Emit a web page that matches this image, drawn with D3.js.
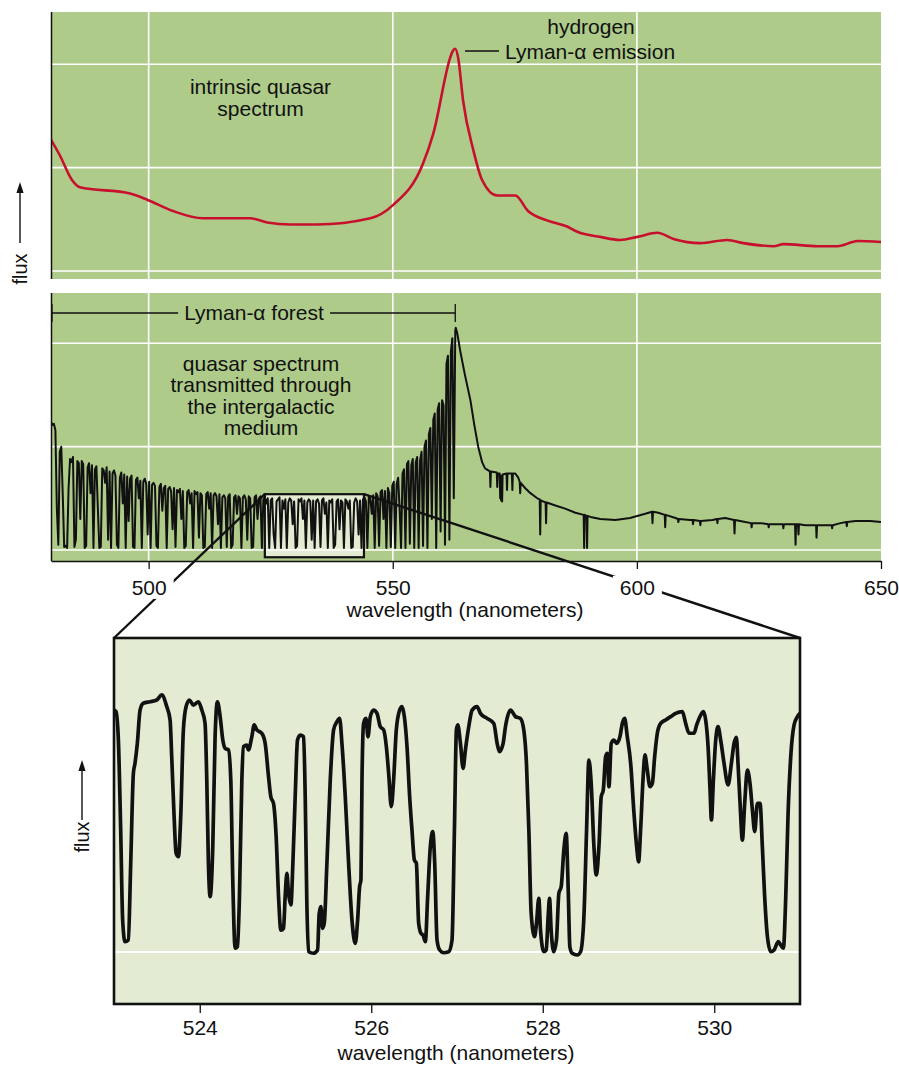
<!DOCTYPE html>
<html><head><meta charset="utf-8">
<script src="https://cdn.jsdelivr.net/npm/d3@7"></script>
<style>
body{margin:0;background:#fff}
svg{display:block}
text{font-family:"Liberation Sans",Arial,Helvetica,sans-serif;fill:#111}
</style>
</head><body>
<svg id="c" width="899" height="1066"></svg>
<script>
// ---------------- DATA ----------------
// Axis ticks / gridlines
const mainTicks = [500, 550, 600, 650];
const gridWaves = [500, 550, 600];
const gridFlux = [0, 1, 2];
const zoomTicks = [524, 526, 528, 530];

// Intrinsic quasar spectrum (red)
const topWave = [480.0,481.8,484.3,485.9,496.2,499.7,505.0,511.1,520.8,524.3,
  529.0,534.5,545.4,550.1,556.2,558.3,561.8,562.2,562.8,563.4,
  564.4,566.5,568.3,571.4,575.1,577.7,581.6,585.7,587.8,592.5,
  596.6,600.1,604.2,607.5,613.0,618.5,621.8,628.0,630.0,637.0,
  641.1,645.2,650.0];
const topFlux = [1.27,1.12,0.88,0.81,0.75,0.69,0.58,0.51,0.51,0.47,
  0.45,0.45,0.51,0.64,1.04,1.33,2.07,2.12,2.15,2.06,
  1.65,1.17,0.88,0.73,0.73,0.58,0.49,0.43,0.38,0.33,
  0.30,0.33,0.37,0.31,0.27,0.30,0.27,0.24,0.26,0.24,
  0.24,0.29,0.28];

// Transmitted spectrum: Lyman-alpha forest, sampled every 0.3 nm from 480 nm
const forestStart = 480.0;
const forestStep = 0.3;
const forestFlux = [
  1.24,1.21,1.22,1.16,0.40,0.05,0.95,1.00,0.55,0.03,
  0.04,0.02,0.60,0.88,0.85,0.90,0.03,0.10,0.86,0.84,
  0.30,0.86,0.83,0.02,0.04,0.80,0.84,0.55,0.82,0.02,
  0.78,0.81,0.40,0.02,0.03,0.79,0.77,0.65,0.80,0.10,
  0.76,0.02,0.74,0.77,0.72,0.05,0.02,0.70,0.75,0.45,
  0.73,0.02,0.71,0.28,0.69,0.72,0.03,0.02,0.68,0.70,
  0.50,0.67,0.02,0.66,0.69,0.64,0.15,0.66,0.02,0.63,
  0.65,0.62,0.04,0.02,0.61,0.64,0.38,0.60,0.62,0.02,
  0.59,0.61,0.57,0.20,0.60,0.03,0.58,0.56,0.59,0.30,
  0.57,0.02,0.04,0.56,0.58,0.45,0.55,0.02,0.57,0.54,
  0.56,0.12,0.55,0.53,0.02,0.03,0.54,0.56,0.40,0.55,
  0.02,0.53,0.55,0.52,0.25,0.54,0.02,0.51,0.53,0.50,
  0.03,0.52,0.54,0.02,0.05,0.51,0.53,0.35,0.52,0.50,
  0.02,0.51,0.53,0.49,0.10,0.52,0.50,0.02,0.03,0.51,
  0.53,0.30,0.50,0.52,0.02,0.49,0.51,0.45,0.50,0.02,
  0.48,0.50,0.15,0.02,0.47,0.49,0.51,0.02,0.48,0.40,
  0.49,0.02,0.46,0.50,0.48,0.25,0.47,0.02,0.04,0.49,
  0.47,0.50,0.30,0.48,0.02,0.46,0.49,0.47,0.10,0.48,
  0.02,0.47,0.49,0.45,0.03,0.48,0.50,0.35,0.46,0.02,
  0.48,0.46,0.49,0.02,0.05,0.47,0.49,0.20,0.48,0.46,
  0.02,0.49,0.47,0.40,0.48,0.02,0.03,0.46,0.50,0.47,
  0.15,0.48,0.02,0.49,0.51,0.47,0.02,0.52,0.50,0.35,
  0.53,0.02,0.55,0.52,0.04,0.56,0.58,0.30,0.57,0.02,
  0.60,0.55,0.03,0.62,0.66,0.02,0.64,0.70,0.40,0.02,
  0.74,0.78,0.02,0.83,0.86,0.06,0.82,0.88,0.02,0.85,
  0.90,0.02,0.87,0.95,0.04,1.00,1.06,0.02,1.12,1.18,
  0.30,1.26,1.32,0.02,1.36,1.42,0.18,1.45,1.40,0.05,
  1.80,1.88,0.10,1.92,2.05,0.50,2.12];

// Transmitted spectrum redward of the Lyman-alpha emission
const redWave = [562.9,563.2,563.8,564.8,565.9,566.7,567.5,568.3,568.9,
  569.9,570.0,570.1,571.3,571.4,571.5,571.9,572.0,572.1,572.2,572.3,572.4,572.5,
  573.3,573.4,573.5,574.4,574.5,574.6,575.1,575.7,576.0,576.1,576.2,577.1,578.2,579.6,
  580.1,580.2,580.3,581.3,581.4,581.5,583.3,585.3,587.4,
  589.1,589.2,589.3,589.7,589.8,589.9,590.5,592.5,595.6,598.6,601.7,
  603.1,603.2,603.3,604.4,605.7,605.8,605.9,607.9,608.4,608.5,608.6,610.9,
  611.4,611.5,611.6,612.9,613.0,613.1,615.5,616.4,616.5,616.6,618.1,
  619.9,620.0,620.1,622.2,623.4,623.5,623.6,625.3,626.9,627.0,627.1,628.4,
  629.9,630.0,630.1,631.4,632.4,632.5,632.6,633.0,633.1,633.2,634.5,
  636.7,636.8,636.9,638.6,639.9,640.0,640.1,641.7,642.9,643.0,643.1,644.8,647.8,650.0];
const redFlux = [2.15,2.10,1.93,1.69,1.45,1.21,1.00,0.85,0.79,
  0.76,0.61,0.76,0.75,0.61,0.74,0.74,0.50,0.70,0.48,0.72,0.47,0.73,
  0.74,0.58,0.74,0.74,0.58,0.74,0.74,0.70,0.66,0.55,0.65,0.60,0.55,0.50,
  0.49,0.15,0.48,0.46,0.26,0.46,0.43,0.40,0.36,
  0.34,0.02,0.34,0.33,0.02,0.33,0.32,0.30,0.29,0.31,0.35,
  0.37,0.26,0.37,0.36,0.34,0.22,0.34,0.31,0.30,0.27,0.30,0.29,
  0.29,0.25,0.29,0.28,0.24,0.28,0.29,0.30,0.26,0.30,0.31,
  0.29,0.16,0.29,0.27,0.26,0.22,0.26,0.26,0.25,0.22,0.25,0.25,
  0.25,0.21,0.25,0.25,0.25,0.05,0.25,0.25,0.15,0.25,0.24,
  0.24,0.12,0.24,0.24,0.24,0.21,0.24,0.26,0.27,0.23,0.27,0.28,0.28,0.27];

// Highlighted window and enlarged spectrum (523-531 nm)
const zoomBoxWave = [523.8, 544.1];
const zoomBoxFlux = [-0.07, 0.54];
const forestRange = [480.0, 562.8];

const zoomWave = [523.000,523.023,523.051,523.078,523.101,523.128,523.167,523.195,523.226,523.245,
  523.272,523.304,523.342,523.420,523.498,523.557,523.615,523.654,523.673,523.701,
  523.724,523.751,523.778,523.809,523.841,523.880,523.926,523.985,524.024,524.062,
  524.082,524.101,524.121,524.152,524.179,524.206,524.238,524.269,524.296,524.335,
  524.362,524.385,524.413,524.440,524.463,524.491,524.510,524.549,524.568,524.607,
  524.635,524.666,524.724,524.763,524.802,524.829,524.860,524.891,524.919,524.946,
  524.977,524.996,525.016,525.035,525.063,525.086,525.113,525.140,525.172,525.211,
  525.230,525.249,525.269,525.327,525.374,525.393,525.413,525.432,525.452,525.483,
  525.522,525.561,525.600,525.631,525.658,525.697,525.736,525.775,525.814,525.841,
  525.864,525.880,525.892,525.911,525.938,525.962,525.989,526.028,526.067,526.106,
  526.145,526.176,526.203,526.234,526.261,526.292,526.331,526.359,526.386,526.417,
  526.448,526.475,526.503,526.526,526.553,526.580,526.604,526.631,526.658,526.689,
  526.717,526.740,526.767,526.798,526.845,526.903,526.942,526.970,526.993,527.009,
  527.040,527.071,527.098,527.137,527.176,527.234,
  527.273,527.351,527.429,527.468,527.495,527.538,527.565,527.624,527.682,527.740,
  527.779,527.810,527.838,527.865,527.904,527.927,527.954,527.974,528.013,528.040,
  528.063,528.079,528.098,528.129,528.160,528.188,528.215,528.246,528.273,528.297,
  528.316,528.343,528.402,528.441,528.480,528.511,528.538,528.565,528.597,528.624,
  528.655,528.682,528.706,528.733,528.752,528.772,528.799,528.830,528.861,528.900,
  528.928,528.955,528.986,529.025,529.064,529.095,529.118,529.141,529.169,529.192,
  529.219,529.250,529.278,529.305,529.336,529.375,529.433,529.492,529.550,529.628,
  529.667,529.706,529.764,529.795,529.842,529.873,529.900,529.928,529.951,529.967,
  529.990,530.017,530.044,530.075,530.114,530.161,530.200,530.231,530.258,530.277,
  530.301,530.328,530.355,530.386,530.417,530.445,530.472,530.503,530.534,530.561,
  530.588,530.620,530.659,530.698,530.748,530.775,530.806,530.834,530.861,530.892,
  530.931,530.970,531.001];
const zoomFlux = [0.960,0.954,0.841,0.484,0.127,0.041,0.048,0.352,0.709,0.749,
  0.828,0.960,0.987,0.993,1.000,1.020,0.974,0.921,0.775,0.537,
  0.392,0.378,0.537,0.881,0.974,1.000,0.980,0.993,0.960,0.907,
  0.683,0.352,0.220,0.418,0.854,0.993,0.934,0.841,0.808,0.802,
  0.683,0.286,0.015,0.021,0.220,0.683,0.815,0.821,0.802,0.854,
  0.901,0.881,0.868,0.828,0.696,0.616,0.590,0.458,0.220,0.087,
  0.094,0.220,0.312,0.233,0.187,0.352,0.616,0.841,0.861,0.854,
  0.616,0.193,0.001,-0.005,0.008,0.153,0.180,0.094,0.114,0.352,
  0.683,0.881,0.914,0.927,0.828,0.616,0.352,0.127,0.034,0.127,
  0.259,0.286,0.683,0.907,0.927,0.854,0.934,0.960,0.947,0.894,
  0.881,0.815,0.709,0.577,0.683,0.881,0.960,0.974,0.934,0.815,
  0.616,0.484,0.365,0.352,0.114,0.074,0.067,0.041,0.220,0.418,
  0.478,0.352,0.048,0.008,-0.003,0.001,0.048,0.484,0.881,0.901,
  0.828,0.729,0.802,0.894,0.960,0.974,
  0.947,0.927,0.907,0.828,0.795,0.828,0.894,0.960,0.934,0.927,
  0.881,0.749,0.484,0.153,0.061,0.114,0.213,0.087,0.001,0.008,
  0.140,0.213,0.087,0.001,0.048,0.233,0.259,0.405,0.471,0.246,
  0.021,-0.005,-0.012,0.001,0.140,0.484,0.762,0.669,0.418,0.306,
  0.418,0.616,0.643,0.775,0.788,0.656,0.828,0.841,0.828,0.854,
  0.907,0.927,0.854,0.749,0.550,0.418,0.358,0.484,0.683,0.782,
  0.722,0.656,0.669,0.775,0.868,0.907,0.921,0.934,0.947,0.954,
  0.907,0.868,0.868,0.901,0.940,0.954,0.921,0.815,0.643,0.524,
  0.683,0.841,0.894,0.841,0.749,0.663,0.749,0.828,0.852,0.749,
  0.590,0.444,0.590,0.722,0.669,0.563,0.478,0.590,0.590,0.418,
  0.220,0.061,0.001,0.008,0.041,0.028,0.015,0.220,0.550,0.775,
  0.901,0.934,0.947];

// ---------------- LAYOUT ----------------
const GREEN = "#aecb8a", PALE = "#e3ebd3", RED = "#c8102e", INK = "#111";
const FS = 21;
const P1 = {l:51, r:881, t:12, b:279};
const P2 = {l:51, r:881, t:293, b:561};
const P3 = {l:114, r:800, t:638, b:1004};

const svg = d3.select("#c");
const xMain = d3.scaleLinear().domain([480, 650]).range([P1.l, P1.r]);
const yTop = d3.scaleLinear().domain([0, 2]).range([271, 64.3]);
const yMid = d3.scaleLinear().domain([0, 2]).range([550, 343.3]);
const xZoom = d3.scaleLinear().domain([523, 531]).range([P3.l, P3.r]);
const yZoom = d3.scaleLinear().domain([0, 1]).range([952, 700]);

const defs = svg.append("defs");
function clip(id, P){
  defs.append("clipPath").attr("id", id).append("rect")
    .attr("x", P.l).attr("y", P.t).attr("width", P.r - P.l).attr("height", P.b - P.t);
}
clip("c1", P1); clip("c2", P2); clip("c3", P3);

function panelBg(P, yScale, fill){
  const g = svg.append("g");
  g.append("rect").attr("x", P.l).attr("y", P.t).attr("width", P.r - P.l)
    .attr("height", P.b - P.t).attr("fill", fill);
  g.selectAll(null).data(gridWaves).join("line")
    .attr("x1", d => xMain(d)).attr("x2", d => xMain(d))
    .attr("y1", P.t).attr("y2", P.b).attr("stroke", "#fff").attr("stroke-width", 1.6);
  g.selectAll(null).data(gridFlux).join("line")
    .attr("x1", P.l).attr("x2", P.r)
    .attr("y1", d => yScale(d)).attr("y2", d => yScale(d))
    .attr("stroke", "#fff").attr("stroke-width", 1.6);
  return g;
}

// ---------------- TOP PANEL ----------------
panelBg(P1, yTop, GREEN);
const topData = d3.zip(topWave, topFlux);
svg.append("path").datum(topData).attr("clip-path", "url(#c1)")
  .attr("fill", "none").attr("stroke", RED).attr("stroke-width", 2.6)
  .attr("stroke-linejoin", "round")
  .attr("d", d3.line().x(d => xMain(d[0])).y(d => yTop(d[1])).curve(d3.curveMonotoneX));
svg.append("line").attr("x1", P1.l + 0.5).attr("x2", P1.l + 0.5).attr("y1", P1.t).attr("y2", P1.b)
  .attr("stroke", INK).attr("stroke-width", 1.5);

svg.append("text").attr("x", 260.5).attr("y", 94).attr("text-anchor", "middle")
  .attr("font-size", FS).text("intrinsic quasar");
svg.append("text").attr("x", 260.5).attr("y", 116).attr("text-anchor", "middle")
  .attr("font-size", FS).text("spectrum");
svg.append("text").attr("x", 591).attr("y", 34).attr("text-anchor", "middle")
  .attr("font-size", FS).text("hydrogen");
svg.append("text").attr("x", 505).attr("y", 59).attr("font-size", FS).text("Lyman-α emission");
svg.append("line").attr("x1", 465).attr("x2", 499).attr("y1", 51).attr("y2", 51)
  .attr("stroke", INK).attr("stroke-width", 1.3);

// ---------------- MIDDLE PANEL ----------------
panelBg(P2, yMid, GREEN);
svg.append("rect")
  .attr("x", xMain(zoomBoxWave[0])).attr("y", yMid(zoomBoxFlux[1]))
  .attr("width", xMain(zoomBoxWave[1]) - xMain(zoomBoxWave[0]))
  .attr("height", yMid(zoomBoxFlux[0]) - yMid(zoomBoxFlux[1]))
  .attr("fill", PALE);
svg.append("line").attr("x1", xMain(zoomBoxWave[0])).attr("x2", xMain(zoomBoxWave[1]))
  .attr("y1", yMid(0)).attr("y2", yMid(0)).attr("stroke", "#fff").attr("stroke-width", 1.6);

const forestData = forestFlux.map((f, i) => [forestStart + i * forestStep, f]);
const transData = forestData.concat(d3.zip(redWave, redFlux));
svg.append("path").datum(transData).attr("clip-path", "url(#c2)")
  .attr("fill", "none").attr("stroke", INK).attr("stroke-width", 2.0)
  .attr("stroke-linejoin", "round")
  .attr("d", d3.line().x(d => xMain(d[0])).y(d => yMid(d[1])));

svg.append("rect")
  .attr("x", xMain(zoomBoxWave[0])).attr("y", yMid(zoomBoxFlux[1]))
  .attr("width", xMain(zoomBoxWave[1]) - xMain(zoomBoxWave[0]))
  .attr("height", yMid(zoomBoxFlux[0]) - yMid(zoomBoxFlux[1]))
  .attr("fill", "none").attr("stroke", INK).attr("stroke-width", 2.2);

svg.append("line").attr("x1", P2.l + 0.5).attr("x2", P2.l + 0.5).attr("y1", P2.t).attr("y2", P2.b)
  .attr("stroke", INK).attr("stroke-width", 1.5);

// Lyman-alpha forest bracket
const brY = 313;
const brText = svg.append("text").attr("x", 254).attr("y", brY + 6.5).attr("text-anchor", "middle")
  .attr("font-size", FS).text("Lyman-α forest");
const bb = brText.node().getBBox();
const bx0 = xMain(forestRange[0]) + 1, bx1 = xMain(forestRange[1]);
svg.append("line").attr("x1", bx0).attr("x2", bb.x - 6).attr("y1", brY).attr("y2", brY)
  .attr("stroke", INK).attr("stroke-width", 1.3);
svg.append("line").attr("x1", bb.x + bb.width + 6).attr("x2", bx1).attr("y1", brY).attr("y2", brY)
  .attr("stroke", INK).attr("stroke-width", 1.3);
[bx0, bx1].forEach(x => svg.append("line").attr("x1", x).attr("x2", x)
  .attr("y1", brY - 9).attr("y2", brY + 9).attr("stroke", INK).attr("stroke-width", 1.3));

["quasar spectrum", "transmitted through", "the intergalactic", "medium"].forEach((t, i) =>
  svg.append("text").attr("x", 261).attr("y", 371 + i * 21.4).attr("text-anchor", "middle")
    .attr("font-size", FS).text(t));

// Connector lines to the enlarged panel
const boxTop = yMid(zoomBoxFlux[1]);
svg.append("line").attr("x1", xMain(zoomBoxWave[0])).attr("y1", boxTop)
  .attr("x2", P3.l).attr("y2", P3.t).attr("stroke", INK).attr("stroke-width", 2.4);
svg.append("line").attr("x1", xMain(zoomBoxWave[1])).attr("y1", boxTop)
  .attr("x2", P3.r).attr("y2", P3.t).attr("stroke", INK).attr("stroke-width", 2.4);

// Main x axis
const axMain = svg.append("g").attr("transform", `translate(0,${P2.b})`)
  .call(d3.axisBottom(xMain).tickValues(mainTicks).tickSize(8).tickPadding(11).tickSizeOuter(0));
axMain.select(".domain").attr("stroke", INK).attr("stroke-width", 1.5);
axMain.selectAll(".tick line").attr("stroke", INK).attr("stroke-width", 1.3);
axMain.selectAll(".tick text").attr("font-size", FS).attr("font-family", null).attr("fill", INK);
axMain.selectAll(".tick").each(function(){
  const t = d3.select(this).select("text");
  const b = t.node().getBBox();
  d3.select(this).insert("rect", "text").attr("x", b.x - 7).attr("y", b.y)
    .attr("width", b.width + 14).attr("height", b.height).attr("fill", "#fff");
});
svg.append("text").attr("x", 465).attr("y", 617).attr("text-anchor", "middle")
  .attr("font-size", FS).text("wavelength (nanometers)");

// ---------------- BOTTOM (ENLARGED) PANEL ----------------
svg.append("rect").attr("x", P3.l).attr("y", P3.t).attr("width", P3.r - P3.l)
  .attr("height", P3.b - P3.t).attr("fill", PALE);
svg.append("line").attr("x1", P3.l).attr("x2", P3.r).attr("y1", yZoom(0)).attr("y2", yZoom(0))
  .attr("stroke", "#fff").attr("stroke-width", 2);
svg.append("path").datum(d3.zip(zoomWave, zoomFlux)).attr("clip-path", "url(#c3)")
  .attr("fill", "none").attr("stroke", INK).attr("stroke-width", 3.7)
  .attr("stroke-linejoin", "round").attr("stroke-linecap", "round")
  .attr("d", d3.line().x(d => xZoom(d[0])).y(d => yZoom(d[1])).curve(d3.curveMonotoneX));
svg.append("rect").attr("x", P3.l).attr("y", P3.t).attr("width", P3.r - P3.l)
  .attr("height", P3.b - P3.t).attr("fill", "none").attr("stroke", INK).attr("stroke-width", 2.6);

const axZoom = svg.append("g").attr("transform", `translate(0,${P3.b + 1})`)
  .call(d3.axisBottom(xZoom).tickValues(zoomTicks).tickSize(8).tickPadding(7).tickSizeOuter(0));
axZoom.select(".domain").remove();
axZoom.selectAll(".tick line").attr("stroke", INK).attr("stroke-width", 1.3);
axZoom.selectAll(".tick text").attr("font-size", FS).attr("font-family", null).attr("fill", INK);
svg.append("text").attr("x", 456).attr("y", 1060).attr("text-anchor", "middle")
  .attr("font-size", FS).text("wavelength (nanometers)");

// ---------------- FLUX LABELS ----------------
function fluxLabel(x, yText, yArrowBottom, yArrowTop, xText){
  svg.append("text").attr("transform", `translate(${xText},${yText}) rotate(-90)`)
    .attr("text-anchor", "middle").attr("font-size", 20).text("flux");
  svg.append("line").attr("x1", x).attr("x2", x).attr("y1", yArrowBottom).attr("y2", yArrowTop + 8)
    .attr("stroke", INK).attr("stroke-width", 1.4);
  svg.append("path").attr("d", `M${x},${yArrowTop} L${x-3.6},${yArrowTop+11} L${x+3.6},${yArrowTop+11} Z`)
    .attr("fill", INK);
}
fluxLabel(20, 269, 243, 182, 27);
fluxLabel(82, 837, 820, 760, 89);
</script>
</body></html>
